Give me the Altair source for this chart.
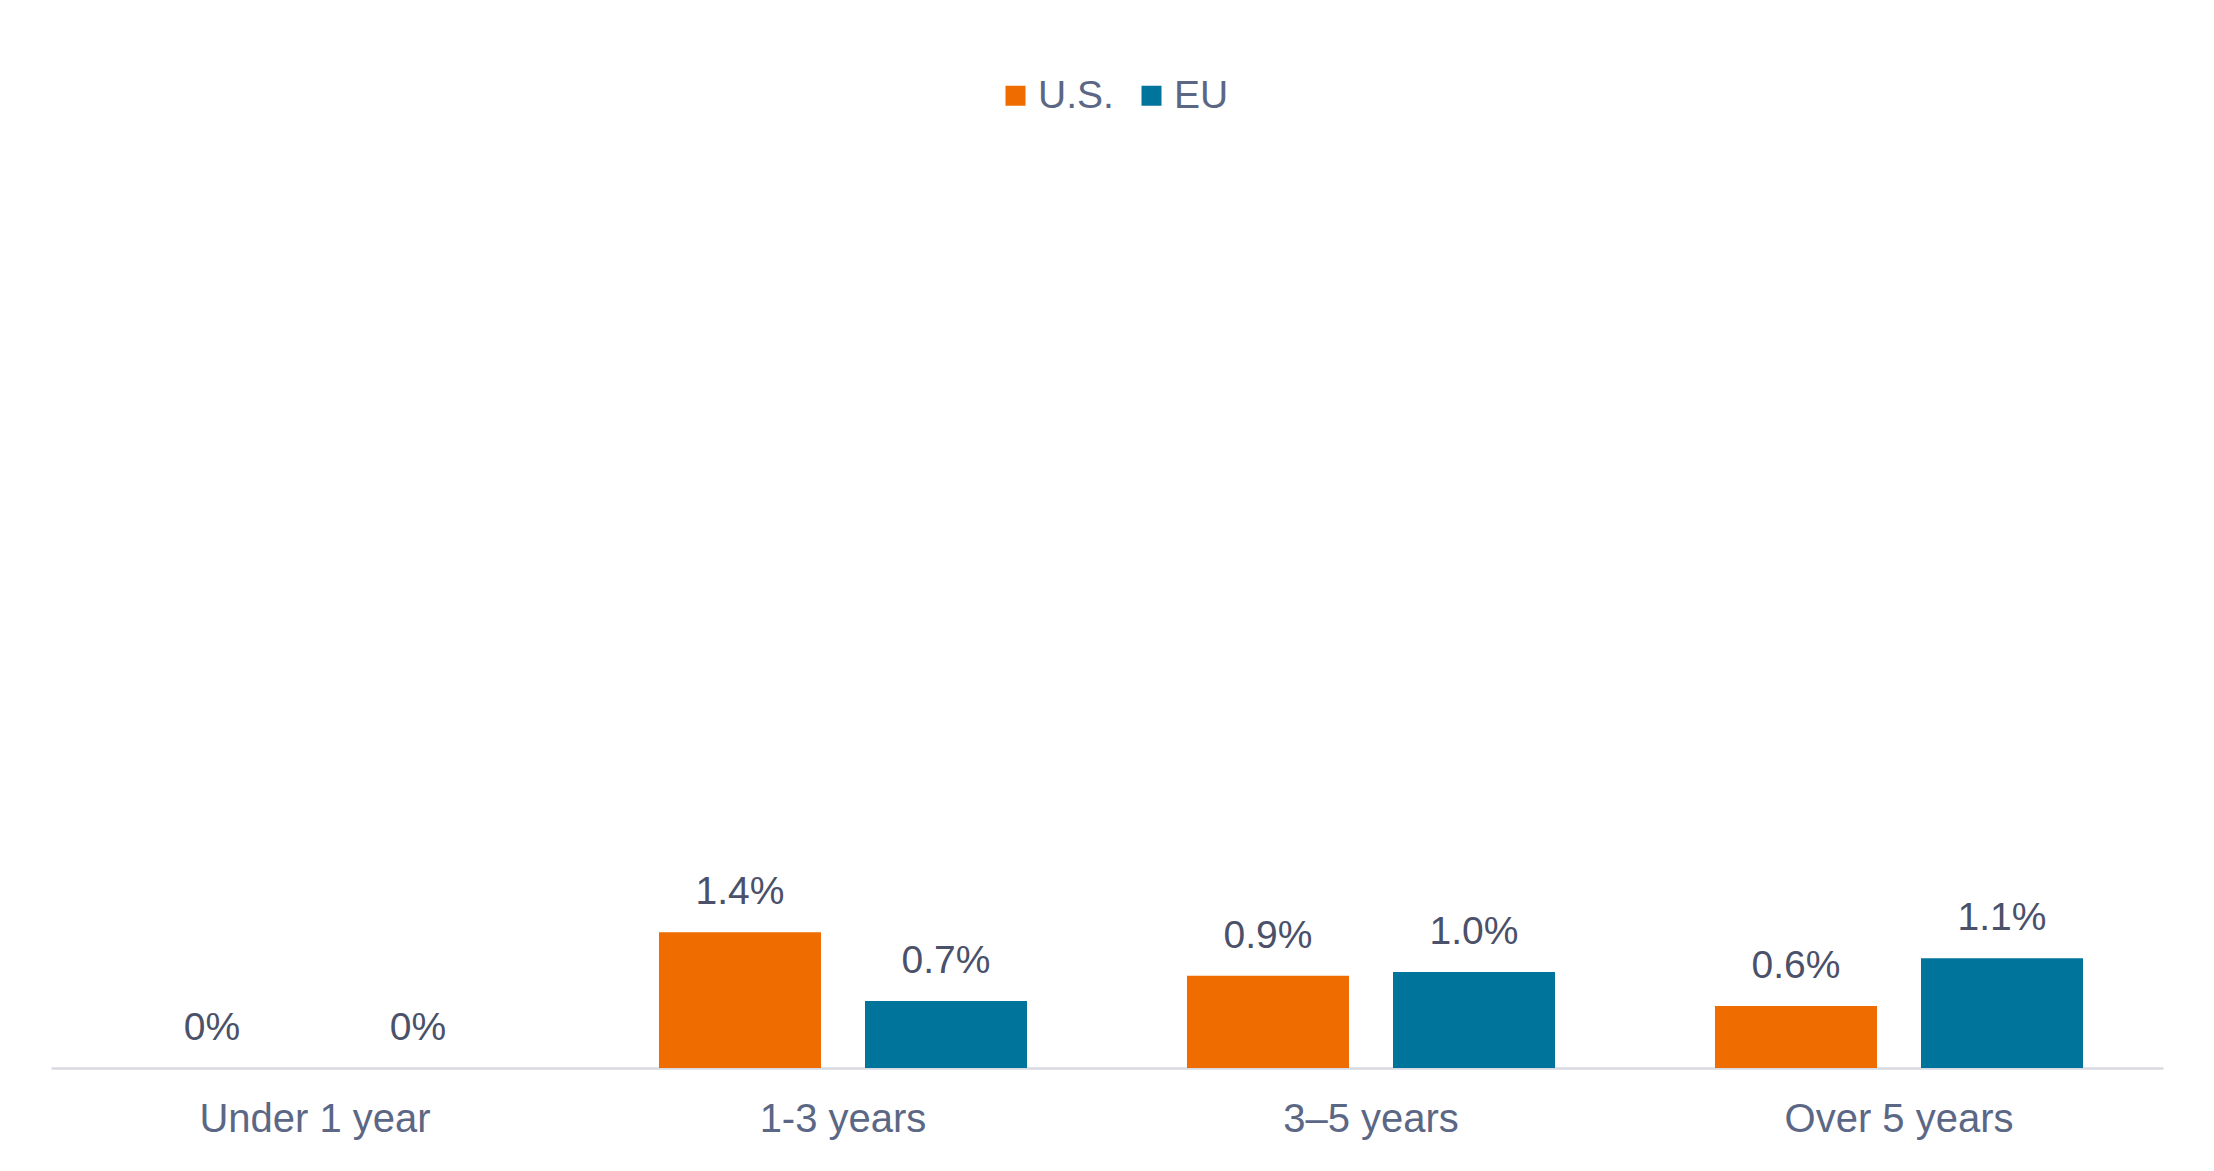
import altair as alt
import pandas as pd

categories = ["Under 1 year", "1-3 years", "3–5 years", "Over 5 years"]
series = ["U.S.", "EU"]
us_values = [0.0, 1.40, 0.95, 0.64]
eu_values = [0.0, 0.69, 0.99, 1.13]
us_labels = ["0%", "1.4%", "0.9%", "0.6%"]
eu_labels = ["0%", "0.7%", "1.0%", "1.1%"]
colors = ["#EE6C00", "#00749A"]

rows = []
for c, v, l in zip(categories, us_values, us_labels):
    rows.append({"Maturity": c, "Series": "U.S.", "Value": v, "Label": l})
for c, v, l in zip(categories, eu_values, eu_labels):
    rows.append({"Maturity": c, "Series": "EU", "Value": v, "Label": l})
df = pd.DataFrame(rows)

FONT = "Liberation Sans"
W, H = 2112, 922

base = alt.Chart(df).encode(
    x=alt.X(
        "Maturity:N",
        sort=categories,
        scale=alt.Scale(paddingInner=0.303, paddingOuter=0.1515),
        axis=alt.Axis(
            title=None, labelAngle=0, ticks=False, tickSize=0, grid=False,
            domainColor="#D9DAE1", domainWidth=2.5,
            labelFont=FONT, labelFontSize=40, labelColor="#5B6785",
            labelPadding=63, labelBaseline="alphabetic", labelLimit=0,
        ),
    ),
    xOffset=alt.XOffset("Series:N", sort=series,
                        scale=alt.Scale(paddingInner=0.2136, paddingOuter=0)),
    y=alt.Y("Value:Q", scale=alt.Scale(domain=[0, 9.5], nice=False, zero=True), axis=None),
)

bars = base.mark_bar().encode(
    color=alt.Color(
        "Series:N", sort=series,
        scale=alt.Scale(domain=series, range=colors),
        legend=alt.Legend(
            title=None, orient="none", legendX=945, legendY=-70,
            direction="horizontal", symbolType="square", symbolSize=400,
            symbolStrokeWidth=0, labelFont=FONT, labelFontSize=39,
            labelColor="#5B6785", labelOffset=3, columnPadding=18, padding=0,
            labelLimit=0,
        ),
    )
)

labels = base.mark_text(
    dy=-28, baseline="alphabetic", align="center",
    font=FONT, fontSize=39, color="#4A5169",
).encode(text="Label:N")

chart = (bars + labels).properties(
    width=W, height=H,
    autosize=alt.AutoSizeParams(type="none"),
    padding={"left": 43, "top": 138, "right": 43, "bottom": 95},
).configure_view(stroke=None)

chart.save("out.html", embed_options={"renderer": "svg", "actions": False})
